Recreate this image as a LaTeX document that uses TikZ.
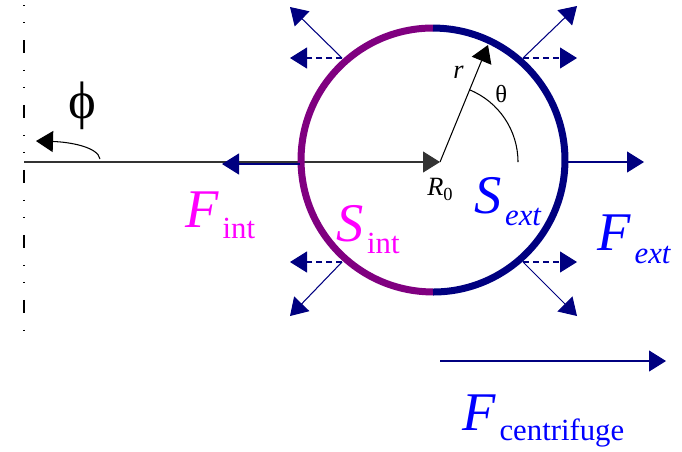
\documentclass[tikz,border=0pt]{standalone}
\usepackage{fontspec}
\setmainfont{Liberation Serif}
\usetikzlibrary{arrows.meta,calc}
\definecolor{forcenavy}{HTML}{000080}
\definecolor{intpurple}{HTML}{800080}
\definecolor{intmagenta}{HTML}{FF00FF}
\definecolor{extblue}{HTML}{0000FF}
\newcommand{\bigsym}[1]{\fontsize{31}{31}\selectfont\textit{#1}}
\newcommand{\subtxt}[2][0.24cm]{\hspace{2pt}\raisebox{-#1}{\fontsize{17.5}{17.5}\selectfont #2}}
\tikzset{
  arrowtip/.style={-{Triangle[length=0.34cm,width=0.42cm]}},
  force/.style={arrowtip,forcenavy,line width=0.6pt},
  proj/.style={force,dash pattern=on 0.12cm off 0.08cm},
  lbl/.style={inner sep=0pt,anchor=base west},
}
\begin{document}
\begin{tikzpicture}[x=0.02cm,y=-0.02cm]
  \useasboundingbox (0,0) rectangle (682,451);
  % points
  \coordinate (O) at (433,160);
  \coordinate (top) at (433,28);
  \coordinate (bot) at (433,292);
  \coordinate (ax) at (24,162);
  \coordinate (R) at (440,162);
  \coordinate (rtip) at (488,45);
  \coordinate (thstart) at (518,162);
  \coordinate (axtop) at (24,5);
  \coordinate (axbot) at (24,346);
  \coordinate (phistart) at (100,159);
  \coordinate (phiend) at (36,141);
  \coordinate (Cl) at (300,164);
  \coordinate (fintend) at (222,164);
  \coordinate (Cr) at (566,162);
  \coordinate (fextend) at (644,162);
  \coordinate (tl) at (342,58);  \coordinate (tld) at (290,7);   \coordinate (tlh) at (290,58);
  \coordinate (tr) at (523,58);  \coordinate (trd) at (577,6);   \coordinate (trh) at (577,58);
  \coordinate (br) at (523,262); \coordinate (brd) at (577,316); \coordinate (brh) at (577,262);
  \coordinate (bl) at (342,262); \coordinate (bld) at (290,316); \coordinate (blh) at (290,262);
  \coordinate (cfa) at (440,361);
  \coordinate (cfb) at (666,361);
  % axis of rotation
  \draw[line width=0.6pt,dash pattern=on 0.02cm off 0.32cm on 0.02cm off 0.34cm on 0.26cm off 0.34cm] (axtop) -- (axbot);
  \draw[arrowtip,line width=0.6pt,black!80] (ax) -- (R);
  \draw[arrowtip,line width=0.6pt] (phistart) .. controls (98,147) and (70,142) .. (phiend);
  % bubble
  \draw[intpurple,line width=0.14cm] (top) arc[start angle=90,end angle=270,radius=2.64cm];
  \draw[forcenavy,line width=0.14cm] (bot) arc[start angle=-90,end angle=90,radius=2.64cm];
  \draw[arrowtip,line width=0.6pt] (R) -- (rtip);
  \draw[line width=0.6pt] (thstart) arc[start angle=0,end angle=68,radius=1.56cm];
  % forces
  \draw[force] (Cl) -- (fintend);
  \draw[force] (Cr) -- (fextend);
  \foreach \p/\q/\s in {tl/tld/tlh,tr/trd/trh,br/brd/brh,bl/bld/blh}{
    \draw[force] (\p) -- (\q);
    \draw[proj] (\p) -- (\s);
  }
  \draw[force] (cfa) -- (cfb);
  % labels
  \node[inner sep=0pt] (philab) at (82,106) {\fontsize{30}{30}\selectfont ϕ};
  \node[lbl] (rlab) at (453,78) {\fontsize{15}{15}\selectfont\textit{r}};
  \node[lbl] (thlab) at (495,102) {\fontsize{14}{14}\selectfont θ};
  \node[lbl] (R0lab) at (427,195) {\fontsize{15}{15}\selectfont\textit{R}\raisebox{-0.1cm}{\fontsize{10.5}{10.5}\selectfont 0}};
  \node[lbl,text=intmagenta] (Fint) at (185,227) {\bigsym{F}\subtxt[0.22cm]{int}};
  \node[lbl,text=intmagenta] (Sint) at (336,241) {\bigsym{S}\subtxt{int}};
  \node[lbl,text=extblue] (Sext) at (474,213) {\bigsym{S}\subtxt{\textit{ext}}};
  \node[lbl,text=extblue] (Fext) at (597,250) {\bigsym{F}\subtxt[0.26cm]{\textit{ext}}};
  \node[lbl,text=extblue] (Fcent) at (462,430) {\bigsym{F}\subtxt[0.2cm]{centrifuge}};
\end{tikzpicture}
\end{document}
